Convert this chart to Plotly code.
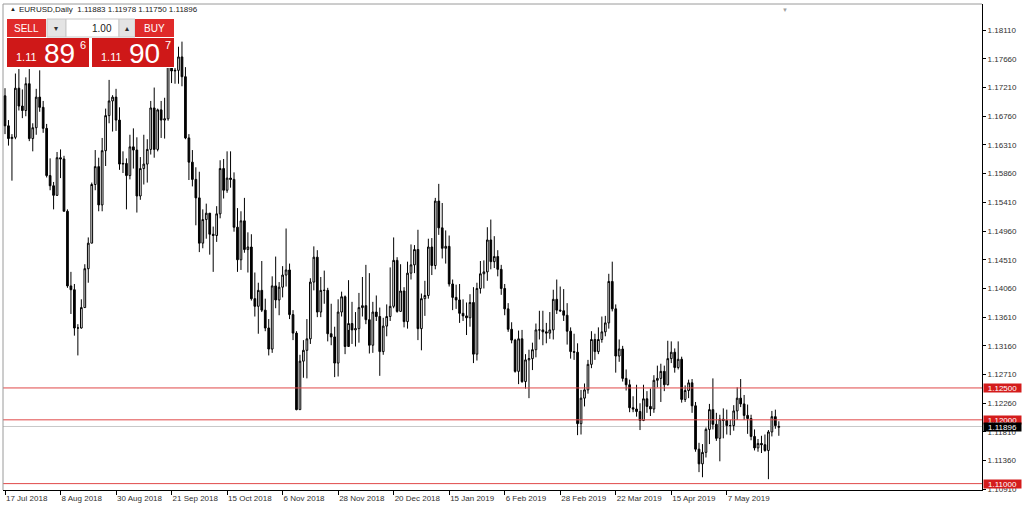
import pandas as pd
import plotly.graph_objects as go

# ---------------- data ----------------
holidays = ["2018-12-25", "2019-01-01"]
dates = [d.strftime("%Y-%m-%d") for d in pd.bdate_range("2018-07-17", "2019-05-28")
         if d.strftime("%Y-%m-%d") not in holidays]

opens = [
    1.1708, 1.1661, 1.1641, 1.1643, 1.1720, 1.1692, 1.1685, 1.1727, 1.1641, 1.1658,
    1.1706, 1.1690, 1.1657, 1.1583, 1.1567, 1.1552, 1.1611, 1.1609, 1.1527, 1.1410,
    1.1404, 1.1344, 1.1344, 1.1376, 1.1437, 1.1477, 1.1569, 1.1597, 1.1537, 1.1622,
    1.1677, 1.1700, 1.1706, 1.1670, 1.1601, 1.1602, 1.1583, 1.1628, 1.1623, 1.1551,
    1.1594, 1.1601, 1.1624, 1.1689, 1.1624, 1.1686, 1.1670, 1.1672, 1.1778, 1.1747,
    1.1748, 1.1769, 1.1738, 1.1642, 1.1604, 1.1577, 1.1548, 1.1477, 1.1514, 1.1524,
    1.1491, 1.1489, 1.1523, 1.1594, 1.1560, 1.1579, 1.1577, 1.1502, 1.1451, 1.1512,
    1.1467, 1.1471, 1.1390, 1.1378, 1.1403, 1.1372, 1.1344, 1.1311, 1.1410, 1.1388,
    1.1408, 1.1427, 1.1435, 1.1365, 1.1336, 1.1216, 1.1292, 1.1309, 1.1327, 1.1416,
    1.1455, 1.1369, 1.1403, 1.1403, 1.1335, 1.1330, 1.1289, 1.1369, 1.1393, 1.1315,
    1.1351, 1.1341, 1.1343, 1.1376, 1.1379, 1.1357, 1.1317, 1.1369, 1.1362, 1.1307,
    1.1347, 1.1362, 1.1378, 1.1450, 1.1370, 1.1402, 1.1354, 1.1430, 1.1443, 1.1467,
    1.1343, 1.1390, 1.1395, 1.1471, 1.1442, 1.1543, 1.1501, 1.1469, 1.1472, 1.1413,
    1.1392, 1.1388, 1.1367, 1.1363, 1.1360, 1.1384, 1.1303, 1.1406, 1.1429, 1.1432,
    1.1482, 1.1448, 1.1456, 1.1436, 1.1406, 1.1374, 1.1342, 1.1325, 1.1276, 1.1327,
    1.1260, 1.1294, 1.1296, 1.1310, 1.1341, 1.1341, 1.1338, 1.1336, 1.1341, 1.1389,
    1.1372, 1.1371, 1.1364, 1.1339, 1.1307, 1.1306, 1.1194, 1.1234, 1.1247, 1.1287,
    1.1326, 1.1307, 1.1326, 1.1338, 1.1352, 1.1417, 1.1374, 1.1300, 1.1311, 1.1265,
    1.1255, 1.1219, 1.1217, 1.1213, 1.1199, 1.1233, 1.1221, 1.1217, 1.1262, 1.1265,
    1.1276, 1.1255, 1.1296, 1.1306, 1.1282, 1.1295, 1.1232, 1.1246, 1.1258, 1.1222,
    1.1154, 1.1131, 1.1149, 1.1185, 1.1216, 1.1193, 1.1171, 1.1201, 1.1199, 1.1191,
    1.1191, 1.1214, 1.1234, 1.1225, 1.1207, 1.1202, 1.1174, 1.1156, 1.1163, 1.1161,
    1.1152, 1.1181, 1.1205, 1.11883,
]

highs = [
    1.1720, 1.1670, 1.1648, 1.1743, 1.1750, 1.1718, 1.1737, 1.1750, 1.1665, 1.1719,
    1.1748, 1.1700, 1.1664, 1.1610, 1.1573, 1.1620, 1.1624, 1.1614, 1.1530, 1.1432,
    1.1413, 1.1350, 1.1389, 1.1444, 1.1486, 1.1572, 1.1623, 1.1611, 1.1642, 1.1688,
    1.1733, 1.1709, 1.1719, 1.1690, 1.1621, 1.1610, 1.1647, 1.1657, 1.1643, 1.1612,
    1.1647, 1.1640, 1.1700, 1.1721, 1.1688, 1.1700, 1.1705, 1.1788, 1.1790, 1.1797,
    1.1785, 1.1793, 1.1753, 1.1648, 1.1623, 1.1596, 1.1589, 1.1530, 1.1539, 1.1523,
    1.1503, 1.1535, 1.1607, 1.1609, 1.1621, 1.1621, 1.1588, 1.1532, 1.1527, 1.1548,
    1.1494, 1.1491, 1.1431, 1.1415, 1.1449, 1.1390, 1.1358, 1.1425, 1.1456, 1.1416,
    1.1441, 1.1500, 1.1445, 1.1372, 1.1339, 1.1302, 1.1325, 1.1358, 1.1422, 1.1472,
    1.1466, 1.1424, 1.1434, 1.1407, 1.1382, 1.1346, 1.1389, 1.1401, 1.1395, 1.1419,
    1.1385, 1.1369, 1.1399, 1.1424, 1.1443, 1.1430, 1.1385, 1.1395, 1.1376, 1.1360,
    1.1381, 1.1439, 1.1486, 1.1455, 1.1444, 1.1408, 1.1448, 1.1475, 1.1474, 1.1498,
    1.1398, 1.1418, 1.1484, 1.1485, 1.1548, 1.1570, 1.1540, 1.1497, 1.1489, 1.1420,
    1.1412, 1.1413, 1.1389, 1.1384, 1.1397, 1.1408, 1.1415, 1.1449, 1.1450, 1.1502,
    1.1514, 1.1488, 1.1466, 1.1443, 1.1413, 1.1383, 1.1353, 1.1327, 1.1340, 1.1341,
    1.1303, 1.1310, 1.1321, 1.1351, 1.1371, 1.1371, 1.1352, 1.1369, 1.1404, 1.1420,
    1.1409, 1.1405, 1.1383, 1.1345, 1.1335, 1.1320, 1.1247, 1.1257, 1.1294, 1.1339,
    1.1335, 1.1345, 1.1362, 1.1363, 1.1429, 1.1448, 1.1381, 1.1326, 1.1316, 1.1279,
    1.1263, 1.1237, 1.1255, 1.1226, 1.1255, 1.1245, 1.1249, 1.1270, 1.1285, 1.1288,
    1.1285, 1.1324, 1.1323, 1.1312, 1.1323, 1.1299, 1.1254, 1.1263, 1.1264, 1.1228,
    1.1164, 1.1162, 1.1188, 1.1225, 1.1265, 1.1211, 1.1208, 1.1218, 1.1216, 1.1200,
    1.1223, 1.1251, 1.1264, 1.1239, 1.1224, 1.1208, 1.1185, 1.1170, 1.1175, 1.1177,
    1.1184, 1.1214, 1.1216, 1.11978,
]

lows = [
    1.1648, 1.1630, 1.1575, 1.1640, 1.1685, 1.1673, 1.1676, 1.1637, 1.1621, 1.1647,
    1.1683, 1.1650, 1.1580, 1.1560, 1.1530, 1.1551, 1.1579, 1.1527, 1.1407, 1.1366,
    1.1332, 1.1301, 1.1343, 1.1376, 1.1415, 1.1477, 1.1560, 1.1527, 1.1527, 1.1598,
    1.1665, 1.1652, 1.1653, 1.1592, 1.1587, 1.1530, 1.1577, 1.1594, 1.1525, 1.1545,
    1.1569, 1.1572, 1.1616, 1.1611, 1.1621, 1.1642, 1.1641, 1.1669, 1.1728, 1.1727,
    1.1727, 1.1723, 1.1640, 1.1576, 1.1566, 1.1505, 1.1463, 1.1469, 1.1484, 1.1459,
    1.1432, 1.1479, 1.1516, 1.1547, 1.1556, 1.1564, 1.1495, 1.1432, 1.1435, 1.1462,
    1.1431, 1.1387, 1.1362, 1.1335, 1.1369, 1.1339, 1.1301, 1.1305, 1.1375, 1.1364,
    1.1392, 1.1409, 1.1358, 1.1325, 1.1215, 1.1216, 1.1266, 1.1265, 1.1319, 1.1403,
    1.1361, 1.1361, 1.1382, 1.1323, 1.1317, 1.1267, 1.1268, 1.1362, 1.1303, 1.1341,
    1.1319, 1.1315, 1.1321, 1.1362, 1.1350, 1.1304, 1.1305, 1.1355, 1.1269, 1.1302,
    1.1331, 1.1355, 1.1375, 1.1368, 1.1370, 1.1345, 1.1343, 1.1420, 1.1430, 1.1325,
    1.1309, 1.1363, 1.1390, 1.1427, 1.1436, 1.1490, 1.1453, 1.1445, 1.1409, 1.1372,
    1.1374, 1.1352, 1.1355, 1.1333, 1.1346, 1.1289, 1.1293, 1.1398, 1.1406, 1.1418,
    1.1436, 1.1438, 1.1425, 1.1396, 1.1364, 1.1338, 1.1320, 1.1274, 1.1256, 1.1258,
    1.1249, 1.1234, 1.1278, 1.1298, 1.1326, 1.1317, 1.1320, 1.1327, 1.1326, 1.1366,
    1.1369, 1.1355, 1.1318, 1.1296, 1.1294, 1.1176, 1.1177, 1.1221, 1.1241, 1.1281,
    1.1294, 1.1303, 1.1321, 1.1331, 1.1343, 1.1370, 1.1274, 1.1291, 1.1260, 1.1246,
    1.1212, 1.1212, 1.1205, 1.1184, 1.1198, 1.1211, 1.1206, 1.1211, 1.1251, 1.1228,
    1.1245, 1.1254, 1.1289, 1.1274, 1.1279, 1.1227, 1.1228, 1.1234, 1.1211, 1.1150,
    1.1118, 1.1110, 1.1141, 1.1162, 1.1185, 1.1167, 1.1135, 1.1171, 1.1177, 1.1176,
    1.1183, 1.1200, 1.1220, 1.1200, 1.1178, 1.1168, 1.1152, 1.1150, 1.1148, 1.1150,
    1.1107, 1.1174, 1.1186, 1.11750,
]

closes = [
    1.1661, 1.1641, 1.1643, 1.1720, 1.1692, 1.1685, 1.1727, 1.1641, 1.1658, 1.1706,
    1.1690, 1.1657, 1.1583, 1.1567, 1.1552, 1.1611, 1.1609, 1.1527, 1.1410, 1.1404,
    1.1344, 1.1344, 1.1376, 1.1437, 1.1477, 1.1569, 1.1597, 1.1537, 1.1622, 1.1677,
    1.1700, 1.1706, 1.1670, 1.1601, 1.1602, 1.1583, 1.1628, 1.1623, 1.1551, 1.1594,
    1.1601, 1.1624, 1.1689, 1.1624, 1.1686, 1.1670, 1.1672, 1.1778, 1.1747, 1.1748,
    1.1769, 1.1738, 1.1642, 1.1604, 1.1577, 1.1548, 1.1477, 1.1514, 1.1524, 1.1491,
    1.1489, 1.1523, 1.1594, 1.1560, 1.1579, 1.1577, 1.1502, 1.1451, 1.1512, 1.1467,
    1.1471, 1.1390, 1.1378, 1.1403, 1.1372, 1.1344, 1.1311, 1.1410, 1.1388, 1.1408,
    1.1427, 1.1435, 1.1365, 1.1336, 1.1216, 1.1292, 1.1309, 1.1327, 1.1416, 1.1455,
    1.1369, 1.1403, 1.1403, 1.1335, 1.1330, 1.1289, 1.1369, 1.1393, 1.1315, 1.1351,
    1.1341, 1.1343, 1.1376, 1.1379, 1.1357, 1.1317, 1.1369, 1.1362, 1.1307, 1.1347,
    1.1362, 1.1378, 1.1450, 1.1370, 1.1402, 1.1354, 1.1430, 1.1443, 1.1467, 1.1343,
    1.1390, 1.1395, 1.1471, 1.1442, 1.1543, 1.1501, 1.1469, 1.1472, 1.1413, 1.1392,
    1.1388, 1.1367, 1.1363, 1.1360, 1.1384, 1.1303, 1.1406, 1.1429, 1.1432, 1.1482,
    1.1448, 1.1456, 1.1436, 1.1406, 1.1374, 1.1342, 1.1325, 1.1276, 1.1327, 1.1260,
    1.1294, 1.1296, 1.1310, 1.1341, 1.1341, 1.1338, 1.1336, 1.1341, 1.1389, 1.1372,
    1.1371, 1.1364, 1.1339, 1.1307, 1.1306, 1.1194, 1.1234, 1.1247, 1.1287, 1.1326,
    1.1307, 1.1326, 1.1338, 1.1352, 1.1417, 1.1374, 1.1300, 1.1311, 1.1265, 1.1255,
    1.1219, 1.1217, 1.1213, 1.1199, 1.1233, 1.1221, 1.1217, 1.1262, 1.1265, 1.1276,
    1.1255, 1.1296, 1.1306, 1.1282, 1.1295, 1.1232, 1.1246, 1.1258, 1.1222, 1.1154,
    1.1131, 1.1149, 1.1185, 1.1216, 1.1193, 1.1171, 1.1201, 1.1199, 1.1191, 1.1191,
    1.1214, 1.1234, 1.1225, 1.1207, 1.1202, 1.1174, 1.1156, 1.1163, 1.1161, 1.1152,
    1.1181, 1.1205, 1.1191, 1.11896,
]

tick_dates = ["2018-07-17", "2018-08-08", "2018-08-30", "2018-09-21", "2018-10-15",
              "2018-11-06", "2018-11-28", "2018-12-20", "2019-01-15", "2019-02-06",
              "2019-02-28", "2019-03-22", "2019-04-15", "2019-05-07"]
tick_labels = ["17 Jul 2018", "8 Aug 2018", "30 Aug 2018", "21 Sep 2018", "15 Oct 2018",
               "6 Nov 2018", "28 Nov 2018", "20 Dec 2018", "15 Jan 2019", "6 Feb 2019",
               "28 Feb 2019", "22 Mar 2019", "15 Apr 2019", "7 May 2019"]
price_ticks = [1.18110, 1.17660, 1.17210, 1.16760, 1.16310, 1.15860, 1.15410, 1.14960,
               1.14510, 1.14060, 1.13610, 1.13160, 1.12710, 1.12260, 1.11810, 1.11360,
               1.10910]
level_lines = [1.12500, 1.12000, 1.11000]
bid_price = 1.11896
header = "EURUSD,Daily  1.11883 1.11978 1.11750 1.11896"

# ---------------- figure ----------------
W, H = 1024, 511
ML, MR, MT, MB = 3, 42, 4, 21
PW, PH = W - ML - MR, H - MT - MB


def PX(x):
    return (x - ML) / PW


def PY(y):
    return (H - MB - y) / PH


FONT = "Liberation Sans"
RED = "#d41c1c"

fig = go.Figure(go.Candlestick(
    x=dates, open=opens, high=highs, low=lows, close=closes,
    increasing=dict(line=dict(color="black", width=1), fillcolor="white"),
    decreasing=dict(line=dict(color="black", width=1), fillcolor="black"),
    whiskerwidth=0, hoverinfo="skip",
))

shapes = []
for lv in level_lines:
    shapes.append(dict(type="line", xref="paper", x0=0, x1=1, yref="y", y0=lv, y1=lv,
                       line=dict(color="#e04848", width=1), layer="above"))
shapes.append(dict(type="line", xref="paper", x0=0, x1=1, yref="y", y0=bid_price, y1=bid_price,
                   line=dict(color="#c8c8c8", width=1), layer="below"))
shapes.append(dict(type="line", xref="paper", yref="paper", x0=0, x1=0, y0=0, y1=1,
                   line=dict(color="#9a9a9a", width=1)))
shapes.append(dict(type="line", xref="paper", yref="paper", x0=0, x1=1, y0=1, y1=1,
                   line=dict(color="#9a9a9a", width=1)))


def rect(x0, y0, x1, y1, fill, line=None):
    shapes.append(dict(type="rect", xref="paper", yref="paper",
                       x0=PX(x0), x1=PX(x1), y0=PY(y1), y1=PY(y0),
                       fillcolor=fill, layer="above",
                       line=dict(color=line or fill, width=1 if line else 0)))


rect(6, 18, 176, 68, "white")
rect(7, 19, 46, 37, "#e02a2a")
rect(47, 19, 66, 37, "#e4e4e4", "#c8c8c8")
rect(66, 19, 119, 37, "white", "#c8c8c8")
rect(119, 19, 135, 37, "#e4e4e4", "#c8c8c8")
rect(135, 19, 174, 37, "#e02a2a")
rect(7, 38, 89, 67, "#cf1818")
rect(92, 38, 174, 67, "#cf1818")

ann = []


def text(x, y, s, size, color, xanchor="left", yanchor="middle", family=FONT, **kw):
    d = dict(xref="paper", yref="paper", x=PX(x), y=PY(y), text=s, showarrow=False,
             xanchor=xanchor, yanchor=yanchor, font=dict(family=family, size=size, color=color))
    d.update(kw)
    ann.append(d)


text(8, 9, "▲", 6, "#202020")
text(17, 9, header, 8, "#202020")
text(26, 28, "SELL", 10, "white", xanchor="center")
text(154, 28, "BUY", 10, "white", xanchor="center")
text(114, 28, "1.00", 10, "#202020", xanchor="right")
text(56, 28, "▾", 8, "#303030", xanchor="center")
text(127, 28, "▴", 8, "#303030", xanchor="center")
text(14, 59, "1.11", 11, "white", yanchor="bottom", yshift=-6)
text(42, 53, "89", 28, "white")
text(78, 45, "6", 11, "white")
text(99, 59, "1.11", 11, "white", yanchor="bottom", yshift=-6)
text(127, 53, "90", 28, "white")
text(163, 45, "7", 11, "white")
text(785, 5, "▼", 6, "#a0a0a0", xanchor="center", yanchor="top")

for lv in level_lines:
    ann.append(dict(xref="paper", yref="y", x=PX(983), y=lv, xanchor="left", yanchor="middle",
                    text=f"{lv:.5f}", showarrow=False, bgcolor=RED, width=37, height=8,
                    borderpad=0, font=dict(family=FONT, size=8, color="white")))
ann.append(dict(xref="paper", yref="y", x=PX(983), y=bid_price, xanchor="left", yanchor="middle",
                text=f"{bid_price:.5f}", showarrow=False, bgcolor="black", width=37, height=8,
                borderpad=0, yshift=-1, font=dict(family=FONT, size=8, color="white")))

fig.update_layout(
    width=W, height=H, margin=dict(l=ML, r=MR, t=MT, b=MB),
    paper_bgcolor="white", plot_bgcolor="white", showlegend=False,
    shapes=shapes, annotations=ann,
    xaxis=dict(type="category", range=[-0.576, 281.55], rangeslider=dict(visible=False),
               tickvals=tick_dates, ticktext=tick_labels, ticks="outside", ticklen=4,
               tickcolor="black", showgrid=False, showline=True, linecolor="black",
               ticklabelposition="outside right",
               tickfont=dict(family=FONT, size=8, color="#303030"), zeroline=False),
    yaxis=dict(side="right", range=[1.1090, 1.1852], tickvals=price_ticks,
               ticktext=[f"{v:.5f}" for v in price_ticks], ticks="outside", ticklen=3,
               tickcolor="black", showgrid=False, showline=True, linecolor="black",
               tickfont=dict(family=FONT, size=8, color="#303030"), zeroline=False),
)

fig.write_html("out.html", config={"displayModeBar": False},
               post_script="document.body.style.margin='0';")
